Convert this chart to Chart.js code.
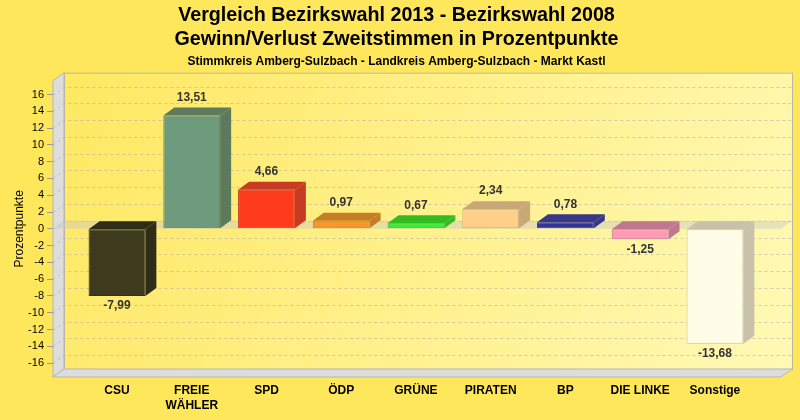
<!DOCTYPE html>
<html><head><meta charset="utf-8">
<script src="https://cdn.jsdelivr.net/npm/chart.js@4.4.0/dist/chart.umd.min.js"></script>
<style>html,body{margin:0;padding:0;background:#FFE75C}#c{display:block}</style>
</head><body>
<div style="width:800px;height:420px"><canvas id="c" width="800" height="420"></canvas></div>
<script>
const categories = ['CSU', ['FREIE','WÄHLER'], 'SPD', 'ÖDP', 'GRÜNE', 'PIRATEN', 'BP', 'DIE LINKE', 'Sonstige'];
const values = [-7.99, 13.51, 4.66, 0.97, 0.67, 2.34, 0.78, -1.25, -13.68];
const yTickValues = [-16,-14,-12,-10,-8,-6,-4,-2,0,2,4,6,8,10,12,14,16];
const frontColors = ['#3D3A1E','#6E9B7D','#FF3B1E','#F7962A','#33EE33','#FFD08A','#333399','#FF99B5','#FFFDE8'];
const sideColors  = ['#2F2D18','#5E7A5C','#C83A22','#C57F22','#33BB22','#C9A878','#383888','#C07891','#C6C3AA'];
const titleLines = ['Vergleich Bezirkswahl 2013 - Bezirkswahl 2008', 'Gewinn/Verlust Zweitstimmen in Prozentpunkte'];
const subtitleText = 'Stimmkreis Amberg-Sulzbach - Landkreis Amberg-Sulzbach - Markt Kastl';

const DX = 11, DY = 8;
const FONT = "'Liberation Sans', Arial, sans-serif";

const scene3d = {
  id: 'scene3d',
  beforeDraw(chart) {
    const {ctx, chartArea: a} = chart;
    ctx.save();
    ctx.fillStyle = '#FFE75C';
    ctx.fillRect(0, 0, chart.width, chart.height);
    const g = ctx.createLinearGradient(a.left + DX, a.top - DY, a.right + DX, a.bottom - DY);
    g.addColorStop(0, '#FFE862');
    g.addColorStop(1, '#FFF9B6');
    ctx.fillStyle = g;
    ctx.fillRect(a.left + DX, a.top - DY, a.right - a.left, a.bottom - a.top);
    ctx.strokeStyle = '#BDB79A';
    ctx.lineWidth = 1;
    ctx.strokeRect(a.left + DX + 0.5, a.top - DY + 0.5, a.right - a.left, a.bottom - a.top);
    ctx.fillStyle = '#DDDDDD';
    ctx.beginPath();
    ctx.moveTo(a.left, a.top); ctx.lineTo(a.left + DX, a.top - DY);
    ctx.lineTo(a.left + DX, a.bottom - DY); ctx.lineTo(a.left, a.bottom); ctx.closePath();
    ctx.fill();
    ctx.strokeStyle = '#B5B5B5'; ctx.stroke();
    ctx.beginPath();
    ctx.moveTo(a.left, a.bottom); ctx.lineTo(a.left + DX, a.bottom - DY);
    ctx.lineTo(a.right + DX, a.bottom - DY); ctx.lineTo(a.right, a.bottom); ctx.closePath();
    ctx.fill(); ctx.stroke();
    const ys = chart.scales.y;
    ctx.setLineDash([3, 3]);
    ctx.strokeStyle = 'rgba(170,170,170,0.55)';
    yTickValues.forEach(v => {
      const py = Math.round(ys.getPixelForValue(v)) + 0.5;
      ctx.beginPath();
      ctx.moveTo(a.left, py); ctx.lineTo(a.left + DX, py - DY);
      ctx.lineTo(a.right + DX, py - DY);
      ctx.stroke();
    });
    ctx.restore();
  },
  beforeDatasetsDraw(chart) {
    const {ctx, chartArea: a} = chart;
    const py = chart.scales.y.getPixelForValue(0);
    ctx.save();
    ctx.fillStyle = 'rgba(200,200,200,0.45)';
    ctx.beginPath();
    ctx.moveTo(a.left, py); ctx.lineTo(a.left + DX, py - DY);
    ctx.lineTo(a.right + DX, py - DY); ctx.lineTo(a.right, py); ctx.closePath();
    ctx.fill();
    ctx.restore();
  },
  afterDatasetsDraw(chart) {
    const {ctx} = chart;
    const meta = chart.getDatasetMeta(0);
    ctx.save();
    meta.data.forEach((el, i) => {
      const p = el.getProps(['x', 'y', 'base', 'width'], true);
      const l = p.x - p.width / 2, r = p.x + p.width / 2;
      const t = Math.min(p.y, p.base), b = Math.max(p.y, p.base);
      ctx.fillStyle = sideColors[i];
      ctx.beginPath();
      ctx.moveTo(l, t); ctx.lineTo(l + DX, t - DY); ctx.lineTo(r + DX, t - DY); ctx.lineTo(r, t); ctx.closePath();
      ctx.fill();
      ctx.beginPath();
      ctx.moveTo(r, t); ctx.lineTo(r + DX, t - DY); ctx.lineTo(r + DX, b - DY); ctx.lineTo(r, b); ctx.closePath();
      ctx.fill();
      const v = values[i];
      ctx.fillStyle = '#333333';
      ctx.font = 'bold 12px ' + FONT;
      ctx.textAlign = 'center';
      ctx.textBaseline = 'middle';
      const txt = v.toFixed(2).replace('.', ',');
      ctx.fillText(txt, p.x, v >= 0 ? t - 18 : b + 10);
    });
    ctx.restore();
  }
};

new Chart(document.getElementById('c'), {
  type: 'bar',
  data: {
    labels: categories,
    datasets: [{
      data: values,
      backgroundColor: frontColors,
      borderColor: sideColors,
      borderWidth: 1,
      borderSkipped: false,
      barPercentage: 0.76,
      categoryPercentage: 1
    }]
  },
  options: {
    responsive: false,
    animation: false,
    devicePixelRatio: 1,
    layout: { padding: { left: 12, right: 19, top: 0, bottom: 8 } },
    plugins: {
      legend: { display: false },
      tooltip: { enabled: false },
      title: {
        display: true, text: titleLines, color: '#000',
        font: { family: FONT, size: 19.7, weight: 'bold', lineHeight: 1.25 },
        padding: { top: 3, bottom: 2 }
      },
      subtitle: {
        display: true, text: subtitleText, color: '#000',
        font: { family: FONT, size: 12, weight: 'bold', lineHeight: 1.2 },
        padding: { top: 0, bottom: 12 }
      }
    },
    scales: {
      x: {
        offset: true,
        afterBuildTicks(axis) { axis._startValue = -0.856; axis._valueRange = 9.74; },
        afterFit(axis) { axis.height = 35; },
        grid: { display: false },
        border: { display: false },
        ticks: { color: '#000', padding: -2, maxRotation: 0, autoSkip: false,
          font: { family: FONT, size: 12, weight: 'bold', lineHeight: 1.25 } }
      },
      y: {
        min: -17.65, max: 17.65,
        afterBuildTicks(axis) { axis.ticks = yTickValues.map(v => ({ value: v })); },
        afterFit(axis) { axis.width = 41; },
        border: { display: false },
        grid: { drawOnChartArea: false, drawTicks: true, tickLength: 6, color: '#9A9A9A' },
        ticks: { color: '#000', padding: 3, font: { family: FONT, size: 11 } },
        title: { display: true, text: 'Prozentpunkte', color: '#000', padding: { top: 0, bottom: 0 },
          font: { family: FONT, size: 12 } }
      }
    }
  },
  plugins: [scene3d]
});
</script>
</body></html>
